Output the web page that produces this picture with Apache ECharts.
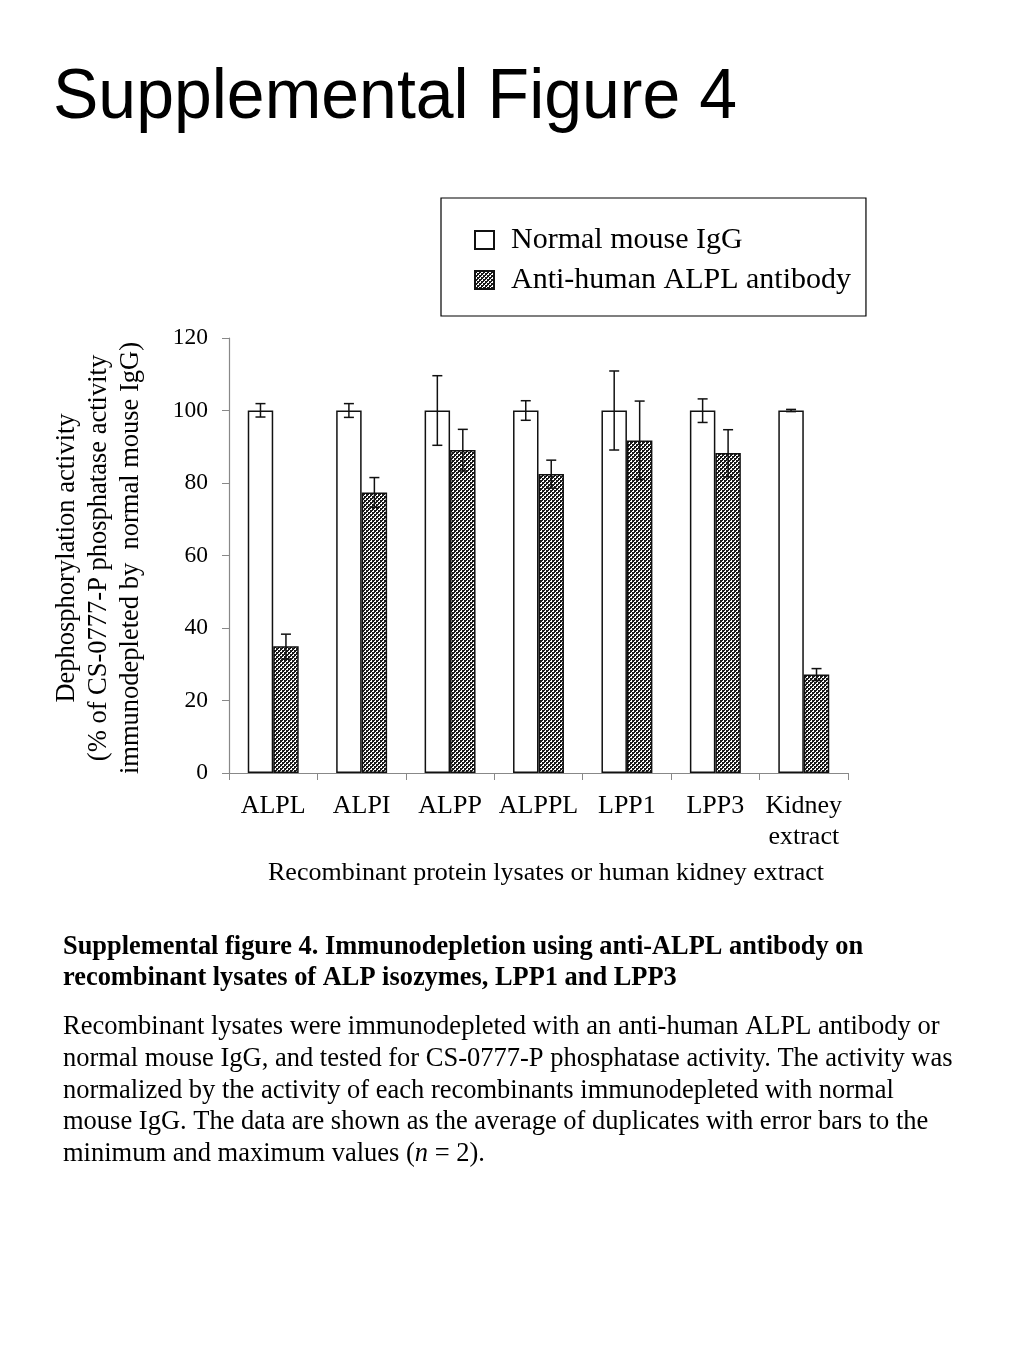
<!DOCTYPE html>
<html><head><meta charset="utf-8">
<script src="https://cdn.jsdelivr.net/npm/echarts@6/dist/echarts.min.js"></script>
<style>html,body{margin:0;padding:0;background:#fff}#c{width:1024px;height:1365px}</style>
</head><body><div id="c"></div>
<script>
const categories = ['ALPL','ALPI','ALPP','ALPPL','LPP1','LPP3','Kidney\nextract'];
const seriesNames = ['Normal mouse IgG','Anti-human ALPL antibody'];
const normalMean = [100,100,100,100,100,100,100];
const normalLow  = [98.2,98.1,90.4,97.3,89.1,96.7,99.7];
const normalHigh = [101.9,101.9,109.6,102.7,110.9,103.2,100.3];
const antiMean = [35.0,77.4,89.1,82.5,91.7,88.3,27.2];
const antiLow  = [31.4,73.3,83.3,78.6,81.0,81.7,25.5];
const antiHigh = [38.3,81.5,94.8,86.3,102.6,94.7,28.8];
const yTicks = {min:0,max:120,interval:20};

const serif = 'Liberation Serif, Times New Roman, serif';
const sans = 'Liberation Sans, Arial, sans-serif';

// hatch pattern
const pc = document.createElement('canvas');
pc.width = 4; pc.height = 4;
const g = pc.getContext('2d');
g.fillStyle = '#ffffff'; g.fillRect(0,0,4,4);
g.fillStyle = '#1a1a1a';
g.fillRect(0,0,2,2); g.fillRect(2,2,2,2);
g.fillRect(2,0,1,1); g.fillRect(0,2,1,1);
const hatch = {image: pc, repeat: 'repeat'};

function measure(text, font){
  const c = document.createElement('canvas').getContext('2d');
  c.font = font; return c.measureText(text).width;
}
const titleText = 'Supplemental Figure 4';
const titleSize = 70;
const titleScale = 684 / measure(titleText, titleSize + 'px Liberation Sans');

const barFrac = 0.288;
function errSeries(lowArr, highArr, side){
  return {
    type:'custom', z:10, silent:true,
    data: lowArr.map((l,i)=>[i,l,highArr[i]]),
    renderItem:function(params, api){
      const i = api.value(0);
      const bw = api.size([1,0])[0];
      const off = side * bw * barFrac/2;
      const lo = api.coord([i, api.value(1)]);
      const hi = api.coord([i, api.value(2)]);
      const x = lo[0] + off;
      const cap = 5;
      const st = {stroke:'#111', lineWidth:1.5};
      return {type:'group', children:[
        {type:'line', shape:{x1:x,y1:lo[1],x2:x,y2:hi[1]}, style:st},
        {type:'line', shape:{x1:x-cap,y1:lo[1],x2:x+cap,y2:lo[1]}, style:st},
        {type:'line', shape:{x1:x-cap,y1:hi[1],x2:x+cap,y2:hi[1]}, style:st}
      ]};
    }
  };
}

const heading = [
  'Supplemental figure 4. Immunodepletion using anti-ALPL antibody on',
  'recombinant lysates of ALP isozymes, LPP1 and LPP3'
];
const body = [
  'Recombinant lysates were immunodepleted with an anti-human ALPL antibody or',
  'normal mouse IgG, and tested for CS-0777-P phosphatase activity. The activity was',
  'normalized by the activity of each recombinants immunodepleted with normal',
  'mouse IgG. The data are shown as the average of duplicates with error bars to the',
  'minimum and maximum values ({i|n} = 2).'
];
const yNameLines = ['Dephosphorylation activity','(% of CS-0777-P phosphatase activity','immunodepleted by  normal mouse IgG)'];

const graphics = [
  {type:'text', left:53, top:64, scaleX:titleScale, style:{text:titleText, font:titleSize+'px '+sans, fill:'#000'}},
  {type:'text', x:546, y:873, style:{text:'Recombinant protein lysates or human kidney extract', font:'26px '+serif, fill:'#000', align:'center', verticalAlign:'middle'}}
];
yNameLines.forEach((t,k)=>{
  graphics.push({type:'text', x:67+k*32, y:558, rotation:Math.PI/2,
    style:{text:t, font:'26.5px '+serif, fill:'#000', align:'center', verticalAlign:'middle'}});
});
heading.forEach((t,k)=>{
  graphics.push({type:'text', x:63, y:947+k*31, style:{text:t, font:'bold 26.4px '+serif, fill:'#000', verticalAlign:'middle'}});
});
body.forEach((t,k)=>{
  graphics.push({type:'text', x:63, y:1027+k*31.8, style:{text:t, font:'26.5px '+serif, fill:'#000', verticalAlign:'middle',
    rich:{i:{fontStyle:'italic', fontSize:26.5, fontFamily:serif}}}});
});

const chart = echarts.init(document.getElementById('c'));
chart.setOption({
  backgroundColor:'#fff',
  animation:false,
  grid:{left:229, right:176, top:338, bottom:592, containLabel:false},
  legend:{
    orient:'vertical', left:441, top:198,
    data:seriesNames.map(n=>({name:n, icon:'rect'})),
    borderColor:'#000', borderWidth:1.2,
    padding:[25,15,19,33],
    itemWidth:19, itemHeight:18, itemGap:6,
    textStyle:{fontFamily:serif, fontSize:30, color:'#000', lineHeight:34, padding:[0,0,0,12]},
    selectedMode:false
  },
  xAxis:{
    type:'category', data:categories,
    axisLine:{lineStyle:{color:'#888', width:1.2}},
    axisTick:{show:true, alignWithLabel:false, length:7, lineStyle:{color:'#888'}},
    axisLabel:{fontFamily:serif, fontSize:26, color:'#000', margin:18, lineHeight:31, interval:0}
  },
  yAxis:{
    type:'value', min:yTicks.min, max:yTicks.max, interval:yTicks.interval,
    axisLine:{show:true, lineStyle:{color:'#888', width:1.2}},
    axisTick:{show:true, length:7, lineStyle:{color:'#888'}},
    splitLine:{show:false},
    axisLabel:{fontFamily:serif, fontSize:23.5, color:'#000', margin:21}
  },
  series:[
    {name:seriesNames[0], type:'bar', data:normalMean, barWidth:(barFrac*100)+'%', barGap:'0%',
      itemStyle:{color:'#fff', borderColor:'#111', borderWidth:1.5}},
    {name:seriesNames[1], type:'bar', data:antiMean, barWidth:(barFrac*100)+'%', barGap:'0%',
      itemStyle:{color:hatch, borderColor:'#111', borderWidth:1.5}},
    errSeries(normalLow, normalHigh, -1),
    errSeries(antiLow, antiHigh, 1)
  ],
  graphic:graphics
});
</script></body></html>
